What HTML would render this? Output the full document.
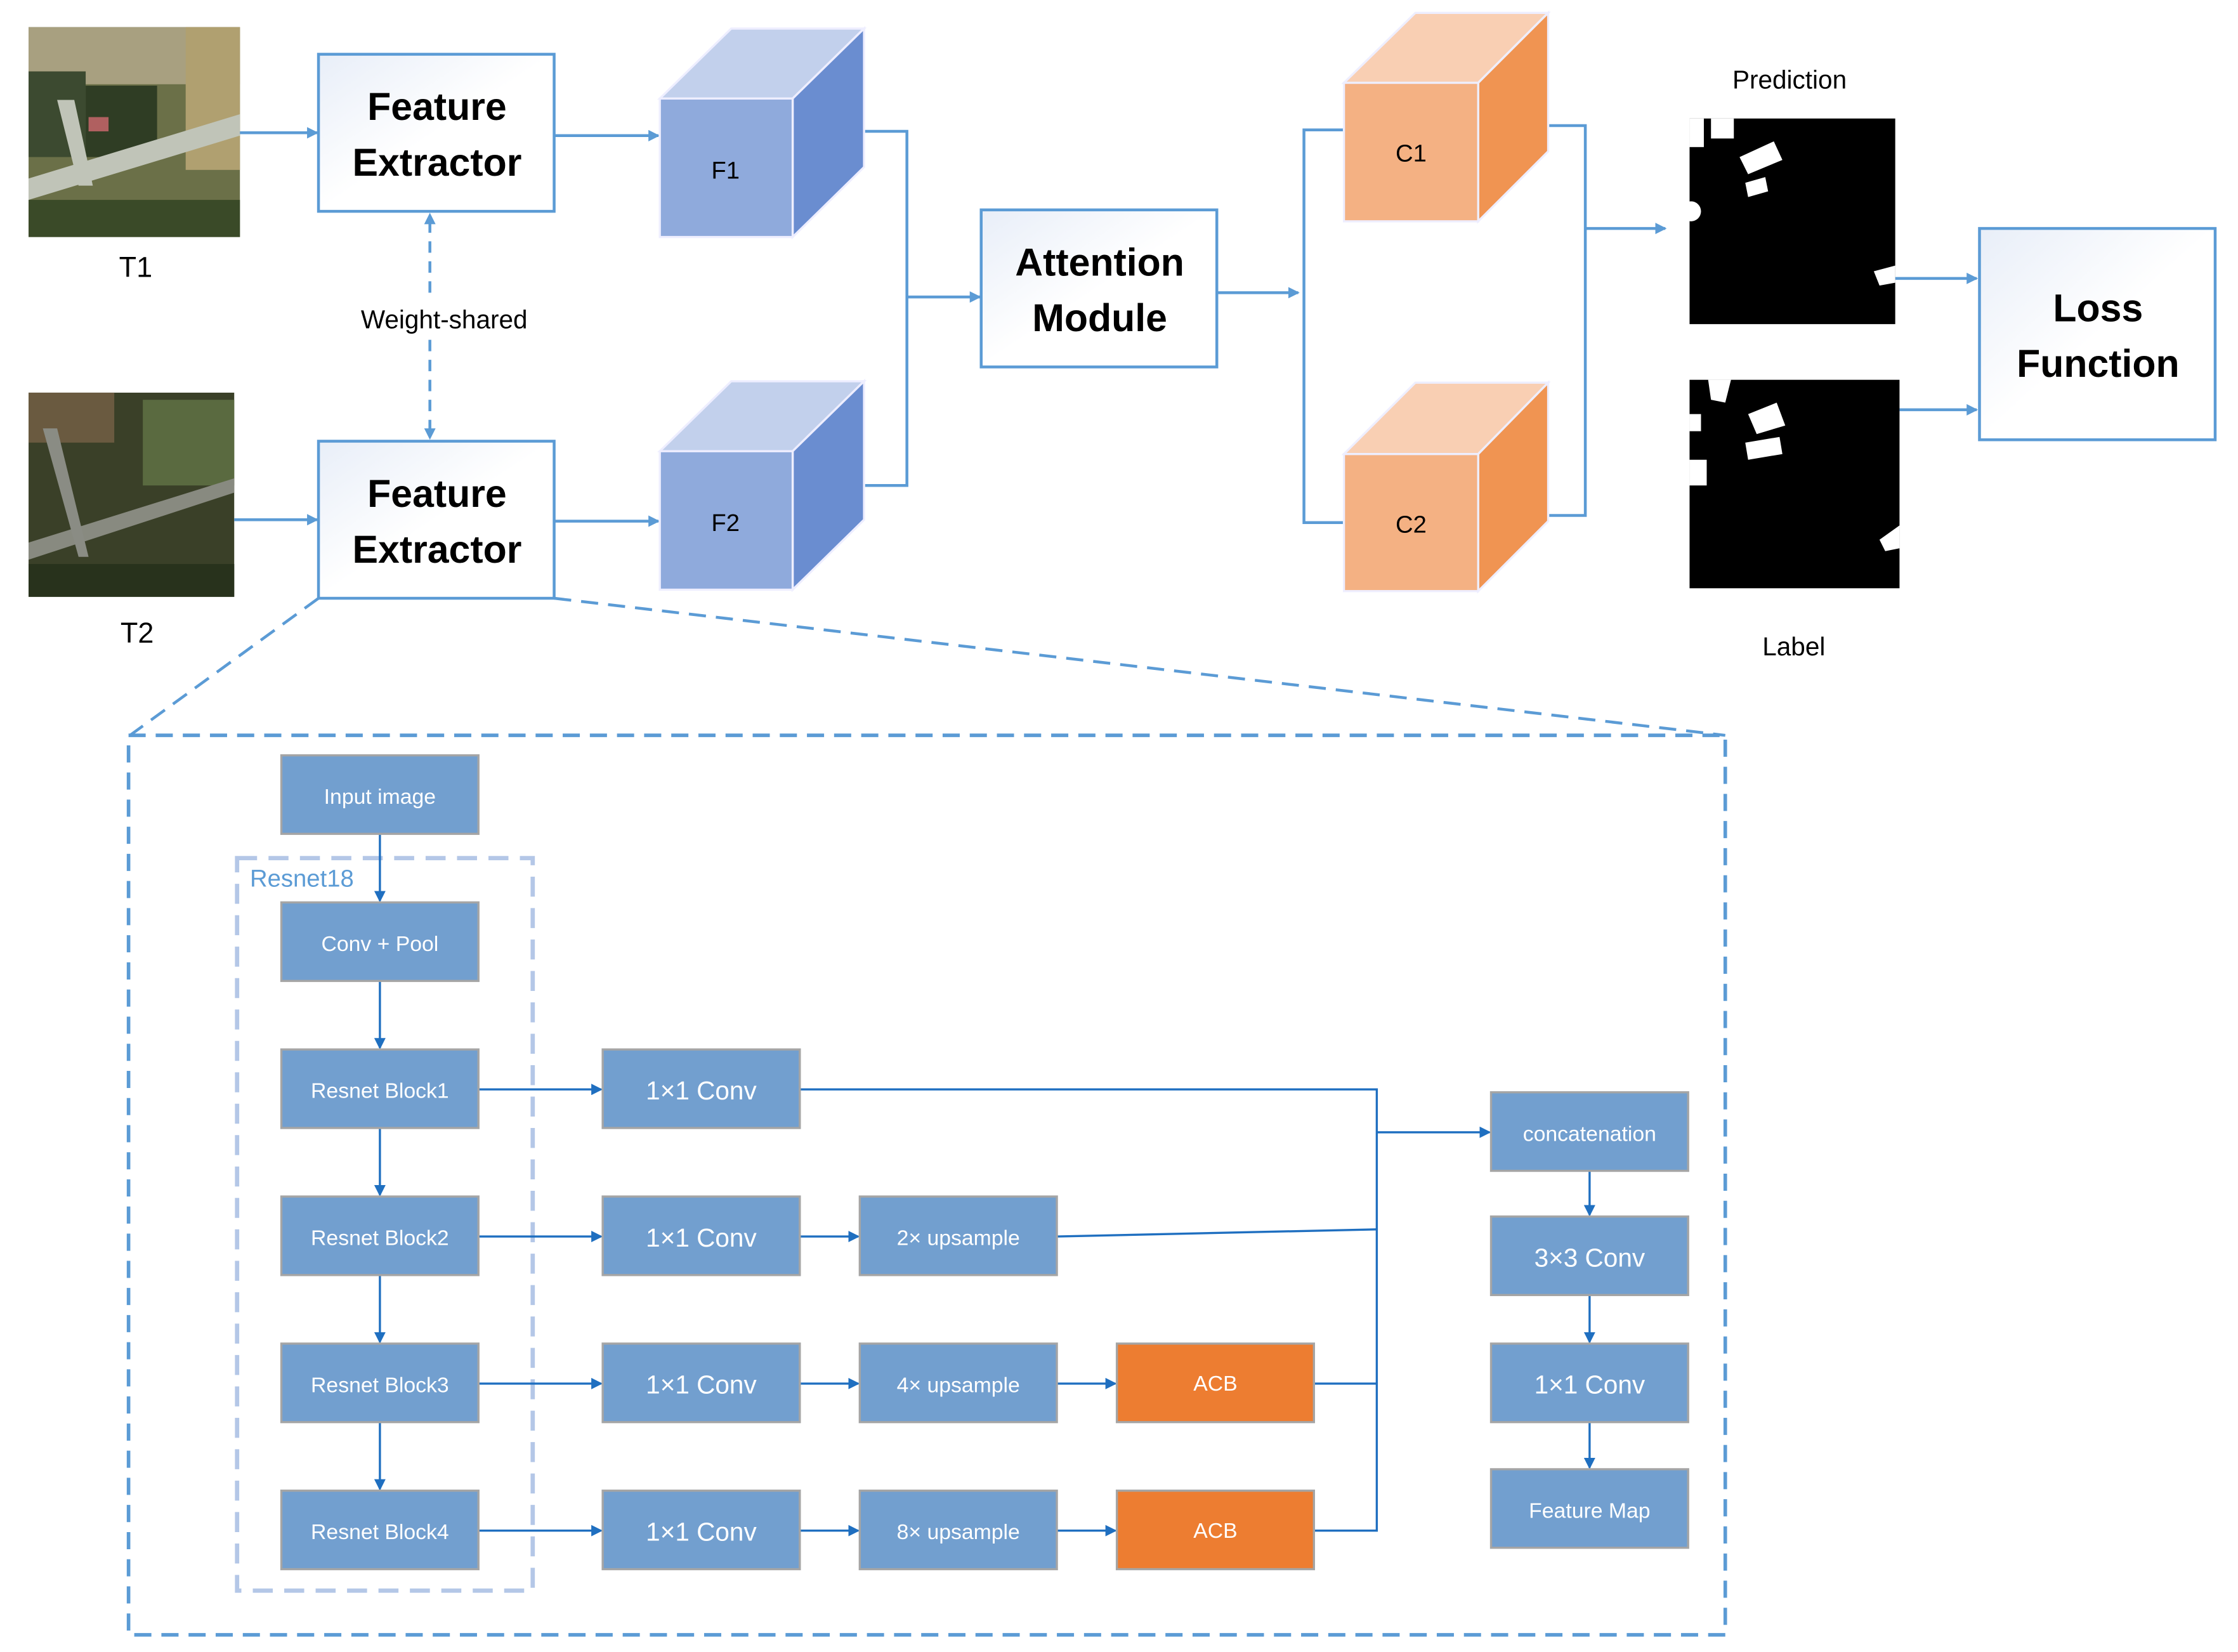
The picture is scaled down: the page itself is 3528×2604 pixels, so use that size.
<!DOCTYPE html>
<html><head><meta charset="utf-8"><style>html,body{margin:0;padding:0;background:#fff}svg{display:block}</style></head>
<body>
<svg width="3528" height="2604" viewBox="0 0 1567 1157" preserveAspectRatio="none" xmlns="http://www.w3.org/2000/svg" font-family="'Liberation Sans', sans-serif">
<defs>
<marker id="a" markerWidth="8" markerHeight="8" refX="7" refY="4" orient="auto" markerUnits="userSpaceOnUse"><path d="M0,0L8,4L0,8z" fill="#5b9bd5"/></marker>
<marker id="b" markerWidth="8" markerHeight="8" refX="7" refY="4" orient="auto" markerUnits="userSpaceOnUse"><path d="M0,0L8,4L0,8z" fill="#1f6fc0"/></marker>
<linearGradient id="g" x1="0" y1="0" x2="1" y2="1"><stop offset="0" stop-color="#e8eef8"/><stop offset="0.5" stop-color="#fff"/></linearGradient>
</defs>
<rect width="1567" height="1157" fill="#fff"/>
<!-- T1 image -->
<rect x="20" y="19" width="148" height="147" fill="#6b7048"/>
<rect x="20" y="19" width="148" height="40" fill="#a8a080"/>
<rect x="130" y="19" width="38" height="100" fill="#b0a070"/>
<rect x="20" y="50" width="40" height="60" fill="#3c4a30"/>
<rect x="60" y="60" width="50" height="50" fill="#2f3d24"/>
<path d="M20,125 L168,80 L168,95 L20,140z" fill="#c0c4b8"/>
<path d="M40,70 L55,130 L65,130 L52,70z" fill="#c0c4b8"/>
<rect x="20" y="140" width="148" height="26" fill="#3a4a28"/>
<rect x="62" y="82" width="14" height="10" fill="#b06060"/>
<!-- T2 image -->
<rect x="20" y="275" width="144" height="143" fill="#3a4028"/>
<rect x="20" y="275" width="60" height="35" fill="#6a5a40"/>
<rect x="100" y="280" width="64" height="60" fill="#5a6a40"/>
<path d="M20,380 L164,335 L164,345 L20,392z" fill="#888a80"/>
<path d="M30,300 L55,390 L62,390 L40,300z" fill="#8a8c84"/>
<rect x="20" y="395" width="144" height="23" fill="#28321c"/>
<text x="95" y="194" font-size="20" text-anchor="middle">T1</text>
<text x="96" y="450" font-size="20" text-anchor="middle">T2</text>
<!-- Feature extractors -->
<g stroke="#5b9bd5" stroke-width="2" fill="url(#g)">
<rect x="223" y="38" width="165" height="110"/>
<rect x="223" y="309" width="165" height="110"/>
<rect x="687" y="147" width="165" height="110"/>
<rect x="1386" y="160" width="165" height="148"/>
</g>
<g font-size="27" font-weight="bold" text-anchor="middle">
<text x="306" y="84">Feature</text><text x="306" y="123">Extractor</text>
<text x="306" y="355">Feature</text><text x="306" y="394">Extractor</text>
<text x="770" y="193">Attention</text><text x="770" y="232">Module</text>
<text x="1469" y="225">Loss</text><text x="1469" y="264">Function</text>
</g>
<g stroke="#5b9bd5" stroke-width="2" fill="none">
<line x1="168" y1="93" x2="222" y2="93" marker-end="url(#a)"/>
<line x1="164" y1="364" x2="222" y2="364" marker-end="url(#a)"/>
<line x1="388" y1="95" x2="461" y2="95" marker-end="url(#a)"/>
<line x1="388" y1="365" x2="461" y2="365" marker-end="url(#a)"/>
<line x1="301" y1="205" x2="301" y2="150" stroke-dasharray="8 6" marker-end="url(#a)"/>
<line x1="301" y1="238" x2="301" y2="307" stroke-dasharray="8 6" marker-end="url(#a)"/>
<polyline points="605,92 635,92 635,340 605,340"/>
<line x1="635" y1="208" x2="686" y2="208" marker-end="url(#a)"/>
<line x1="852" y1="205" x2="909" y2="205" marker-end="url(#a)"/>
<polyline points="941,91 913,91 913,366 941,366"/>
<polyline points="1084,88 1110,88 1110,361 1084,361"/>
<line x1="1110" y1="160" x2="1166" y2="160" marker-end="url(#a)"/>
<line x1="1327" y1="195" x2="1384" y2="195" marker-end="url(#a)"/>
<line x1="1330" y1="287" x2="1384" y2="287" marker-end="url(#a)"/>
<line x1="223" y1="419" x2="91" y2="515" stroke-dasharray="12 7"/>
<line x1="388" y1="419" x2="1208" y2="515" stroke-dasharray="12 7"/>
<rect x="90" y="515" width="1118" height="630" stroke-width="2.5" stroke-dasharray="12 7"/>
</g>
<text x="311" y="230" font-size="18" text-anchor="middle">Weight-shared</text>
<!-- cubes -->
<g stroke="#eef" stroke-width="1.5">
<polygon points="462,69 512,20 605,20 555,69" fill="#c2d0ec"/>
<polygon points="555,69 605,20 605,117 555,166" fill="#6a8dd0"/>
<rect x="462" y="69" width="93" height="97" fill="#8faadc"/>
<polygon points="462,316 512,267 605,267 555,316" fill="#c2d0ec"/>
<polygon points="555,316 605,267 605,364 555,413" fill="#6a8dd0"/>
<rect x="462" y="316" width="93" height="97" fill="#8faadc"/>
<polygon points="941,58 991,9 1084,9 1035,58" fill="#f9cfb3"/>
<polygon points="1035,58 1084,9 1084,106 1035,155" fill="#f09452"/>
<rect x="941" y="58" width="94" height="97" fill="#f4b183"/>
<polygon points="941,318 991,268 1084,268 1035,318" fill="#f9cfb3"/>
<polygon points="1035,318 1084,268 1084,365 1035,414" fill="#f09452"/>
<rect x="941" y="318" width="94" height="96" fill="#f4b183"/>
</g>
<g font-size="17" text-anchor="middle">
<text x="508" y="125">F1</text><text x="508" y="372">F2</text>
<text x="988" y="113">C1</text><text x="988" y="373">C2</text>
<text x="1253" y="62" font-size="18">Prediction</text>
<text x="1256" y="459" font-size="18">Label</text>
</g>
<!-- prediction / label -->
<rect x="1183" y="83" width="144" height="144" fill="#000"/>
<g fill="#fff"><polygon points="1218,110 1242,99 1248,112 1224,122"/><polygon points="1222,128 1236,124 1238,134 1224,138"/><rect x="1198" y="83" width="16" height="14"/><circle cx="1184" cy="148" r="7"/><polygon points="1312,190 1327,186 1327,198 1316,200"/><rect x="1183" y="83" width="10" height="20"/></g>
<rect x="1183" y="266" width="147" height="146" fill="#000"/>
<g fill="#fff"><polygon points="1224,290 1244,282 1250,298 1230,304"/><polygon points="1222,310 1246,306 1248,318 1224,322"/><polygon points="1196,266 1212,266 1208,282 1198,280"/><rect x="1183" y="322" width="12" height="18"/><polygon points="1316,378 1330,368 1330,384 1320,386"/><rect x="1183" y="290" width="8" height="12"/></g>
<!-- resnet18 dashed -->
<rect x="166" y="601" width="207" height="513" fill="none" stroke="#b4c7e7" stroke-width="3" stroke-dasharray="14 8"/>
<text x="175" y="621" font-size="17" fill="#5b9bd5">Resnet18</text>
<!-- connectors -->
<g stroke="#1f6fc0" stroke-width="1.5" fill="none">
<line x1="266" y1="584" x2="266" y2="631" marker-end="url(#b)"/>
<line x1="266" y1="687" x2="266" y2="734" marker-end="url(#b)"/>
<line x1="266" y1="790" x2="266" y2="837" marker-end="url(#b)"/>
<line x1="266" y1="893" x2="266" y2="940" marker-end="url(#b)"/>
<line x1="266" y1="996" x2="266" y2="1043" marker-end="url(#b)"/>
<line x1="335" y1="763" x2="421" y2="763" marker-end="url(#b)"/>
<line x1="335" y1="866" x2="421" y2="866" marker-end="url(#b)"/>
<line x1="335" y1="969" x2="421" y2="969" marker-end="url(#b)"/>
<line x1="335" y1="1072" x2="421" y2="1072" marker-end="url(#b)"/>
<line x1="560" y1="866" x2="601" y2="866" marker-end="url(#b)"/>
<line x1="560" y1="969" x2="601" y2="969" marker-end="url(#b)"/>
<line x1="560" y1="1072" x2="601" y2="1072" marker-end="url(#b)"/>
<line x1="740" y1="969" x2="781" y2="969" marker-end="url(#b)"/>
<line x1="740" y1="1072" x2="781" y2="1072" marker-end="url(#b)"/>
<polyline points="560,763 964,763 964,1072 920,1072"/>
<line x1="740" y1="866" x2="964" y2="861"/>
<line x1="920" y1="969" x2="964" y2="969"/>
<line x1="964" y1="793" x2="1043" y2="793" marker-end="url(#b)"/>
<line x1="1113" y1="820" x2="1113" y2="851" marker-end="url(#b)"/>
<line x1="1113" y1="907" x2="1113" y2="940" marker-end="url(#b)"/>
<line x1="1113" y1="996" x2="1113" y2="1028" marker-end="url(#b)"/>
</g>
<!-- boxes -->
<g stroke="#a5a5a5" stroke-width="1.5" fill="#729fcf">
<rect x="197" y="529" width="138" height="55"/>
<rect x="197" y="632" width="138" height="55"/>
<rect x="197" y="735" width="138" height="55"/>
<rect x="197" y="838" width="138" height="55"/>
<rect x="197" y="941" width="138" height="55"/>
<rect x="197" y="1044" width="138" height="55"/>
<rect x="422" y="735" width="138" height="55"/>
<rect x="422" y="838" width="138" height="55"/>
<rect x="422" y="941" width="138" height="55"/>
<rect x="422" y="1044" width="138" height="55"/>
<rect x="602" y="838" width="138" height="55"/>
<rect x="602" y="941" width="138" height="55"/>
<rect x="602" y="1044" width="138" height="55"/>
<rect x="782" y="941" width="138" height="55" fill="#ed7d31"/>
<rect x="782" y="1044" width="138" height="55" fill="#ed7d31"/>
<rect x="1044" y="765" width="138" height="55"/>
<rect x="1044" y="852" width="138" height="55"/>
<rect x="1044" y="941" width="138" height="55"/>
<rect x="1044" y="1029" width="138" height="55"/>
</g>
<g fill="#fff" font-size="15" text-anchor="middle">
<text x="266" y="563">Input image</text>
<text x="266" y="666">Conv + Pool</text>
<text x="266" y="769">Resnet Block1</text>
<text x="266" y="872">Resnet Block2</text>
<text x="266" y="975">Resnet Block3</text>
<text x="266" y="1078">Resnet Block4</text>
<g font-size="18"><text x="491" y="770">1×1 Conv</text><text x="491" y="873">1×1 Conv</text><text x="491" y="976">1×1 Conv</text><text x="491" y="1079">1×1 Conv</text>
<text x="1113" y="887">3×3 Conv</text><text x="1113" y="976">1×1 Conv</text></g>
<text x="671" y="872">2×  upsample</text>
<text x="671" y="975">4×  upsample</text>
<text x="671" y="1078">8×  upsample</text>
<text x="851" y="974">ACB</text>
<text x="851" y="1077">ACB</text>
<text x="1113" y="799">concatenation</text>
<text x="1113" y="1063">Feature Map</text>
</g>
</svg>
</body></html>
